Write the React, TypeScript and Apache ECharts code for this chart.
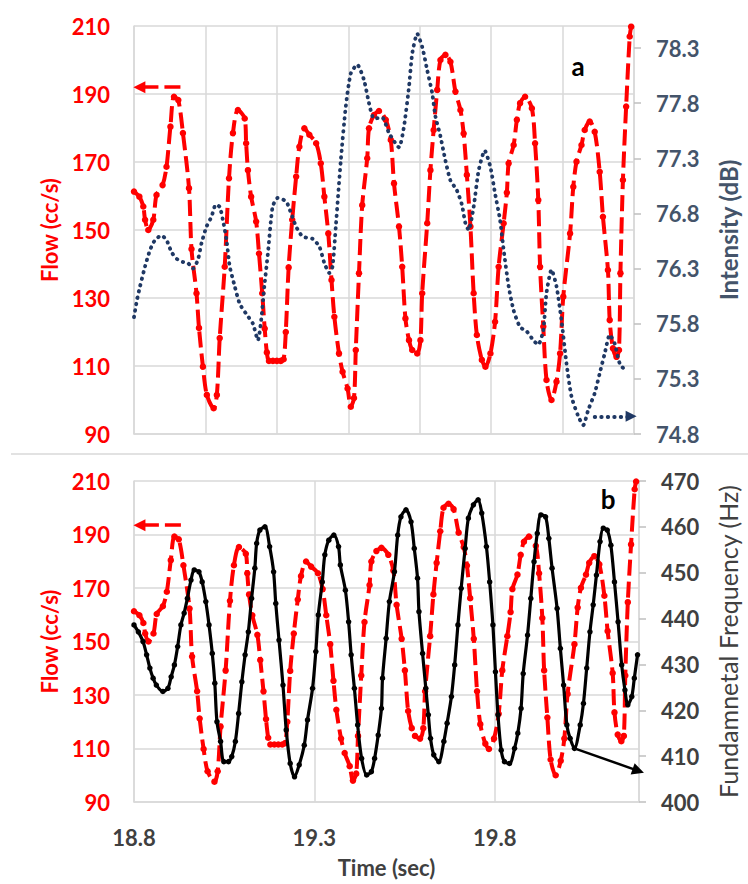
import React, { useEffect, useRef } from "react";
import * as echarts from "echarts";

// Flow rate (cc/s) over time (s) — shared by both panels
const flowTime = [
  18.800, 18.815, 18.826, 18.831, 18.840, 18.854, 18.863, 18.880, 18.891, 18.902,
  18.912, 18.924, 18.937, 18.954, 18.961, 18.975, 18.982, 18.993, 19.004, 19.023,
  19.032, 19.040, 19.054, 19.066, 19.077, 19.091, 19.110, 19.114, 19.119, 19.128,
  19.142, 19.150, 19.159, 19.166, 19.172, 19.178, 19.189, 19.200, 19.211, 19.219,
  19.225, 19.233, 19.243, 19.254, 19.263, 19.277, 19.291, 19.310, 19.323, 19.333,
  19.344, 19.353, 19.361, 19.374, 19.384, 19.398, 19.407, 19.416, 19.421, 19.430,
  19.439, 19.453, 19.458, 19.472, 19.486, 19.505, 19.519, 19.528, 19.542, 19.551,
  19.560, 19.570, 19.579, 19.593, 19.602, 19.607, 19.621, 19.630, 19.639, 19.649,
  19.658, 19.672, 19.686, 19.700, 19.714, 19.723, 19.732, 19.742, 19.751, 19.760,
  19.774, 19.784, 19.798, 19.811, 19.821, 19.835, 19.844, 19.849, 19.863, 19.872,
  19.881, 19.895, 19.914, 19.923, 19.932, 19.937, 19.946, 19.955, 19.969, 19.983,
  19.993, 20.002, 20.021, 20.030, 20.039, 20.053, 20.062, 20.076, 20.090, 20.104,
  20.113, 20.127, 20.132, 20.141, 20.151, 20.158, 20.162, 20.169, 20.178, 20.188,
  20.192,
];
const flowValue = [
  161.3, 159.8, 156.9, 153.0, 150.0, 153.0, 160.3, 163.2, 168.6, 180.4,
  189.2, 188.2, 178.5, 162.3, 144.4, 131.4, 121.2, 109.8, 101.5, 97.6,
  101.5, 118.2, 139.2, 165.2, 178.5, 185.3, 182.8, 175.5, 167.6, 159.8,
  152.5, 143.1, 131.4, 121.0, 114.0, 111.5, 111.5, 111.5, 111.5, 112.0,
  120.0, 139.0, 153.0, 165.7, 174.5, 179.9, 178.0, 175.5, 169.6, 159.8,
  149.0, 135.3, 124.5, 113.7, 108.3, 103.4, 98.0, 100.6, 114.7, 137.3,
  157.3, 171.1, 179.9, 183.8, 185.0, 182.4, 176.5, 163.7, 151.0, 139.2,
  124.0, 117.6, 114.7, 113.7, 117.6, 131.4, 152.0, 167.6, 179.4, 191.2,
  200.0, 201.5, 199.5, 190.7, 185.3, 178.4, 166.2, 151.0, 131.4, 119.1,
  111.8, 109.8, 113.7, 123.0, 139.2, 152.0, 161.0, 169.6, 175.0, 182.4,
  187.3, 189.2, 185.8, 175.5, 158.8, 139.2, 121.6, 105.9, 100.0, 105.4,
  113.7, 130.4, 149.0, 162.7, 170.1, 175.0, 179.4, 181.9, 178.9, 167.1,
  153.9, 138.2, 123.5, 115.2, 112.7, 114.7, 137.3, 164.7, 186.3, 206.9,
  209.8,
];

// Sound intensity (dB), panel a
const intensityTime = [
  18.800, 18.808, 18.817, 18.831, 18.845, 18.859, 18.877, 18.891, 18.905, 18.919,
  18.937, 18.951, 18.965, 18.979, 18.989, 19.003, 19.017, 19.029, 19.040, 19.049,
  19.059, 19.068, 19.082, 19.096, 19.114, 19.133, 19.147, 19.156, 19.165, 19.175,
  19.188, 19.202, 19.226, 19.240, 19.254, 19.272, 19.300, 19.319, 19.333, 19.347,
  19.356, 19.365, 19.379, 19.393, 19.407, 19.425, 19.444, 19.458, 19.472, 19.495,
  19.514, 19.542, 19.556, 19.570, 19.579, 19.593, 19.607, 19.621, 19.635, 19.644,
  19.658, 19.672, 19.686, 19.704, 19.718, 19.728, 19.737, 19.751, 19.765, 19.782,
  19.798, 19.811, 19.825, 19.835, 19.849, 19.863, 19.881, 19.900, 19.918, 19.932,
  19.946, 19.955, 19.969, 19.983, 19.997, 20.011, 20.025, 20.044, 20.058, 20.072,
  20.090, 20.104, 20.118, 20.132, 20.146, 20.160, 20.180,
];
const intensityValue = [
  75.86, 76.01, 76.14, 76.32, 76.47, 76.56, 76.60, 76.56, 76.45, 76.39,
  76.36, 76.35, 76.30, 76.38, 76.53, 76.68, 76.77, 76.88, 76.86, 76.74,
  76.56, 76.32, 76.14, 75.98, 75.89, 75.80, 75.65, 75.83, 76.14, 76.44,
  76.86, 76.94, 76.91, 76.80, 76.68, 76.59, 76.57, 76.50, 76.35, 76.26,
  76.32, 76.68, 77.28, 77.77, 78.07, 78.15, 78.01, 77.80, 77.66, 77.67,
  77.53, 77.40, 77.59, 77.95, 78.25, 78.43, 78.31, 78.10, 77.89, 77.68,
  77.50, 77.28, 77.10, 77.01, 76.88, 76.71, 76.65, 76.86, 77.19, 77.37,
  77.22, 76.98, 76.74, 76.47, 76.14, 75.92, 75.77, 75.73, 75.65, 75.61,
  75.74, 76.08, 76.29, 76.14, 75.83, 75.44, 75.14, 74.96, 74.88, 75.02,
  75.17, 75.35, 75.53, 75.70, 75.62, 75.44, 75.36,
];

// Fundamental frequency (Hz), panel b
const freqTime = [
  18.800, 18.812, 18.825, 18.835, 18.844, 18.853, 18.862, 18.880, 18.894, 18.903,
  18.912, 18.921, 18.930, 18.939, 18.948, 18.958, 18.967, 18.980, 18.989, 18.999,
  19.008, 19.017, 19.024, 19.030, 19.040, 19.049, 19.062, 19.071, 19.081, 19.090,
  19.099, 19.108, 19.117, 19.126, 19.135, 19.140, 19.149, 19.163, 19.176, 19.187,
  19.193, 19.202, 19.213, 19.222, 19.233, 19.245, 19.258, 19.272, 19.281, 19.295,
  19.304, 19.311, 19.322, 19.329, 19.340, 19.354, 19.367, 19.372, 19.386, 19.395,
  19.402, 19.411, 19.420, 19.431, 19.445, 19.458, 19.467, 19.477, 19.486, 19.489,
  19.499, 19.508, 19.522, 19.531, 19.540, 19.554, 19.568, 19.577, 19.586, 19.590,
  19.600, 19.609, 19.616, 19.622, 19.631, 19.645, 19.659, 19.668, 19.680, 19.689,
  19.698, 19.707, 19.718, 19.727, 19.741, 19.754, 19.764, 19.777, 19.786, 19.795,
  19.802, 19.809, 19.818, 19.827, 19.841, 19.855, 19.864, 19.873, 19.879, 19.891,
  19.900, 19.909, 19.918, 19.928, 19.941, 19.950, 19.959, 19.973, 19.982, 19.991,
  20.000, 20.009, 20.021, 20.037, 20.046, 20.055, 20.064, 20.073, 20.082, 20.092,
  20.101, 20.112, 20.122, 20.132, 20.142, 20.152, 20.161, 20.169, 20.180, 20.187,
  20.196,
];
const freqValue = [
  438.6, 437.1, 435.0, 432.1, 429.2, 427.0, 425.5, 424.1, 424.8, 427.3,
  429.9, 433.9, 438.6, 441.2, 444.4, 448.4, 450.6, 450.2, 448.0, 443.7,
  438.6, 432.4, 425.9, 417.5, 413.2, 408.8, 408.8, 409.9, 413.2, 419.3,
  426.2, 432.1, 437.1, 444.4, 451.0, 456.4, 459.3, 460.0, 455.7, 450.2,
  443.3, 435.3, 425.5, 415.7, 408.4, 405.5, 408.1, 412.4, 417.9, 424.8,
  432.8, 440.8, 448.0, 453.9, 457.1, 458.2, 455.7, 451.7, 446.2, 439.3,
  432.1, 424.8, 416.8, 409.5, 405.9, 406.6, 409.5, 414.6, 420.4, 427.0,
  435.7, 443.7, 450.2, 458.2, 462.2, 463.7, 461.1, 455.3, 448.8, 441.5,
  432.4, 424.8, 419.0, 413.9, 410.3, 408.8, 413.2, 417.2, 423.0, 429.9,
  438.6, 446.6, 455.3, 461.9, 464.8, 465.9, 463.0, 455.7, 448.0, 438.6,
  428.4, 419.0, 411.3, 408.8, 408.4, 411.7, 415.0, 420.4, 428.0, 436.4,
  444.4, 452.4, 458.6, 462.6, 462.2, 457.5, 451.0, 442.2, 433.5, 425.5,
  416.8, 413.9, 411.7, 416.8, 421.5, 429.2, 437.1, 443.0, 449.5, 456.8,
  459.7, 459.3, 456.0, 448.0, 439.3, 429.9, 424.4, 421.2, 423.0, 427.0,
  432.1,
];

// Axis ranges
const timeRange = [18.8, 20.2];
const flowRange = [90, 210];
const intensityRange = [74.8, 78.5];
const freqRange = [400, 470];

// Pointer arrows linking each curve to its own axis: [[t, value], [t, value]]
const flowArrowA = [[18.93, 192], [18.815, 192]];
const flowArrowB = [[18.93, 193.5], [18.815, 193.5]];
const intensityArrow = [[20.09, 74.96], [20.192, 74.96]];
const freqArrow = [[20.021, 411.7], [20.198, 406.8]];

const RED = "#FF0000";
const NAVY = "#1F3864";
const NAVY_TEXT = "#44546A";
const DARK = "#404040";
const GRID = "#D9D9D9";
const FONT = "Lato, 'Open Sans', sans-serif";

const pairs = (ts: number[], vs: number[]) => ts.map((t, i) => [t, vs[i]]);

const arrowLine = (pts: number[][]) => [[{ coord: pts[0] }, { coord: pts[1] }]];

export default function App() {
  const ref = useRef<HTMLDivElement>(null);

  useEffect(() => {
    if (!ref.current) return;
    const chart = echarts.init(ref.current, undefined, { renderer: "svg" });

    const flowAxis = (gridIndex: number) => ({
      type: "value",
      gridIndex,
      position: "left",
      min: flowRange[0],
      max: flowRange[1],
      interval: 20,
      name: "Flow (cc/s)",
      nameLocation: "middle",
      nameGap: 70,
      nameTextStyle: { color: RED, fontFamily: FONT, fontWeight: "bold", fontSize: 22 },
      axisLine: { show: true, onZero: false, lineStyle: { color: GRID, width: 1.5 } },
      axisTick: { show: false },
      axisLabel: { color: RED, fontFamily: FONT, fontWeight: "bold", fontSize: 22, margin: 24 },
      splitLine: { show: true, lineStyle: { color: GRID, width: 1.5 } },
    });

    const flowSeries = (axisIndex: number, arrow: number[][]) => ({
      type: "line",
      xAxisIndex: axisIndex,
      yAxisIndex: axisIndex === 0 ? 0 : 2,
      data: pairs(flowTime, flowValue),
      smooth: 0.3,
      symbol: "circle",
      symbolSize: 6.5,
      itemStyle: { color: RED },
      lineStyle: { color: RED, width: 4, type: [16, 6] },
      z: 2,
      markLine: {
        silent: true,
        symbol: ["none", "triangle"],
        symbolSize: 12,
        label: { show: false },
        lineStyle: { color: RED, width: 3.5, type: [16, 6] },
        data: arrowLine(arrow),
      },
    });

    chart.setOption({
      animation: false,
      backgroundColor: "#ffffff",
      grid: [
        { left: 134, right: 112, top: 26, height: 408 },
        { left: 134, right: 102, top: 481, height: 321 },
      ],
      xAxis: [
        {
          type: "value",
          gridIndex: 0,
          min: timeRange[0],
          max: timeRange[1],
          interval: 0.2,
          axisLine: { show: true, onZero: false, lineStyle: { color: GRID, width: 1.5 } },
          axisTick: { show: false },
          axisLabel: { show: false },
          splitLine: { show: true, lineStyle: { color: GRID, width: 1.5 } },
        },
        {
          type: "value",
          gridIndex: 1,
          min: timeRange[0],
          max: timeRange[1],
          interval: 0.5,
          name: "Time (sec)",
          nameLocation: "middle",
          nameGap: 54,
          nameTextStyle: { color: DARK, fontFamily: FONT, fontWeight: "bold", fontSize: 22 },
          axisLine: { show: true, onZero: false, lineStyle: { color: GRID, width: 1.5 } },
          axisTick: { show: false },
          axisLabel: {
            color: DARK,
            fontFamily: FONT,
            fontWeight: "bold",
            fontSize: 22,
            margin: 24,
            showMaxLabel: false,
            formatter: (v: number) => v.toFixed(1),
          },
          splitLine: { show: true, lineStyle: { color: GRID, width: 1.5 } },
        },
      ],
      yAxis: [
        flowAxis(0),
        {
          type: "value",
          gridIndex: 0,
          position: "right",
          min: intensityRange[0],
          max: intensityRange[1],
          interval: 0.5,
          name: "Intensity (dB)",
          nameLocation: "middle",
          nameGap: 82,
          nameTextStyle: { color: NAVY_TEXT, fontFamily: FONT, fontWeight: "bold", fontSize: 24 },
          axisLine: { show: true, onZero: false, lineStyle: { color: GRID, width: 1.5 } },
          axisTick: { show: true, length: 7, lineStyle: { color: "#BFBFBF", width: 1.5 } },
          axisLabel: {
            color: NAVY_TEXT,
            fontFamily: FONT,
            fontWeight: "bold",
            fontSize: 22,
            margin: 22,
            showMaxLabel: false,
            formatter: (v: number) => v.toFixed(1),
          },
          splitLine: { show: false },
        },
        flowAxis(1),
        {
          type: "value",
          gridIndex: 1,
          position: "right",
          min: freqRange[0],
          max: freqRange[1],
          interval: 10,
          name: "Fundamnetal Frequency (Hz)",
          nameLocation: "middle",
          nameGap: 76,
          nameTextStyle: { color: DARK, fontFamily: FONT, fontWeight: "normal", fontSize: 25 },
          axisLine: { show: true, onZero: false, lineStyle: { color: GRID, width: 1.5 } },
          axisTick: { show: true, length: 7, lineStyle: { color: "#BFBFBF", width: 1.5 } },
          axisLabel: { color: DARK, fontFamily: FONT, fontWeight: "bold", fontSize: 22, margin: 22 },
          splitLine: { show: false },
        },
      ],
      series: [
        flowSeries(0, flowArrowA),
        {
          type: "line",
          xAxisIndex: 0,
          yAxisIndex: 1,
          data: pairs(intensityTime, intensityValue),
          smooth: 0.2,
          symbol: "none",
          lineStyle: { color: NAVY, width: 3.8, type: [0.5, 6], cap: "round" },
          z: 3,
          markLine: {
            silent: true,
            symbol: ["none", "triangle"],
            symbolSize: 11,
            label: { show: false },
            lineStyle: { color: NAVY, width: 3.8, type: [0.5, 6], cap: "round" },
            data: arrowLine(intensityArrow),
          },
        },
        flowSeries(1, flowArrowB),
        {
          type: "line",
          xAxisIndex: 1,
          yAxisIndex: 3,
          data: pairs(freqTime, freqValue),
          smooth: 0.3,
          symbol: "circle",
          symbolSize: 5.5,
          itemStyle: { color: "#000000" },
          lineStyle: { color: "#000000", width: 3.2 },
          z: 3,
          markLine: {
            silent: true,
            symbol: ["none", "triangle"],
            symbolSize: 12,
            label: { show: false },
            lineStyle: { color: "#000000", width: 2.5, type: "solid" },
            data: arrowLine(freqArrow),
          },
        },
      ],
      graphic: [
        {
          type: "line",
          shape: { x1: 11, y1: 454, x2: 748, y2: 454 },
          style: { stroke: GRID, lineWidth: 1.5 },
          silent: true,
        },
        {
          type: "text",
          x: 578,
          y: 66,
          style: { text: "a", fill: "#000000", font: `bold 26px ${FONT}`, align: "center", verticalAlign: "middle" },
        },
        {
          type: "text",
          x: 608,
          y: 499,
          style: { text: "b", fill: "#000000", font: `bold 26px ${FONT}`, align: "center", verticalAlign: "middle" },
        },
      ],
    });

    return () => chart.dispose();
  }, []);

  return (
    <div
      ref={ref}
      style={{ position: "absolute", left: 0, top: 0, width: 748, height: 884, background: "#ffffff" }}
    />
  );
}
